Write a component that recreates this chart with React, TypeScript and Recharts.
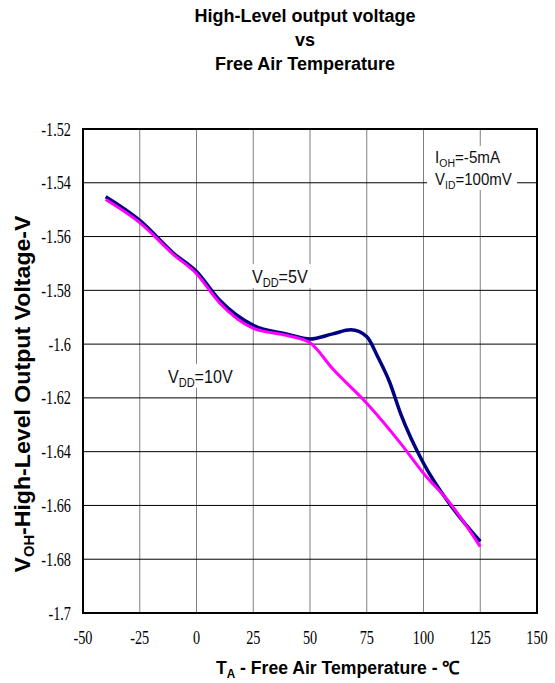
import React from "react";
import {
  LineChart,
  Line,
  CartesianGrid,
  XAxis,
  YAxis,
  ReferenceArea,
  ReferenceDot,
} from "recharts";

// temperature axis (°C)
const xTicks = [-50, -25, 0, 25, 50, 75, 100, 125, 150];
const xTickLabels = ["-50", "-25", "0", "25", "50", "75", "100", "125", "150"];

// output voltage axis (V)
const yTicks = [-1.52, -1.54, -1.56, -1.58, -1.6, -1.62, -1.64, -1.66, -1.68, -1.7];
const yTickLabels = ["-1.52", "-1.54", "-1.56", "-1.58", "-1.6", "-1.62", "-1.64", "-1.66", "-1.68", "-1.7"];

// VDD = 5V curve
const vdd5Temp = [-40, -25, -10, 0, 10, 25, 40, 50, 60, 68, 75, 80, 85, 90, 100, 112, 125];
const vdd5Volt = [
  -1.5452, -1.554, -1.5663, -1.573, -1.5835, -1.593, -1.5963, -1.5981, -1.5962, -1.5947,
  -1.5972, -1.605, -1.614, -1.626, -1.6443, -1.66, -1.6734,
];

// VDD = 10V curve
const vdd10Temp = [-40, -25, -10, 0, 10, 25, 40, 50, 60, 75, 90, 100, 112, 125];
const vdd10Volt = [
  -1.5462, -1.5548, -1.5668, -1.5738, -1.5845, -1.5941, -1.5968, -1.5995, -1.6092,
  -1.622, -1.637, -1.648, -1.6595, -1.6753,
];

const vdd5Rows = vdd5Temp.map((t, i) => ({ t, v: vdd5Volt[i] }));
const vdd10Rows = vdd10Temp.map((t, i) => ({ t, v: vdd10Volt[i] }));

// in-plot notes, anchored at the left end of the text baseline
const notes = [
  { t: 24.4, v: -1.5773, main: "V", sub: "DD", rest: "=5V", size: 19, subSize: 13, sx: 0.85, w: 56, padL: 3, padR: 3, cap: 14 },
  { t: -12.6, v: -1.6144, main: "V", sub: "DD", rest: "=10V", size: 19, subSize: 13, sx: 0.85, w: 67, padL: 3, padR: 3, cap: 14 },
  { t: 105.1, v: -1.5326, main: "I", sub: "OH", rest: "=-5mA", size: 16, subSize: 11, sx: 0.95, w: 65, padL: 2, padR: 2, cap: 12 },
  { t: 105.1, v: -1.5408, main: "V", sub: "ID", rest: "=100mV", size: 16, subSize: 11, sx: 0.94, w: 77, padL: 8, padR: 5, cap: 12 },
];

const serif = "'Liberation Serif', 'Times New Roman', serif";
const sans = "'Liberation Sans', Arial, sans-serif";

const XTick = (props: any) => {
  const { x, y, payload } = props;
  const label = xTickLabels[xTicks.indexOf(payload.value)];
  return (
    <g transform={`translate(${x},${y + 31}) scale(0.75,1)`}>
      <text x={0} y={0} textAnchor="middle" fontFamily={serif} fontSize={19} fill="#000">
        {label}
      </text>
    </g>
  );
};

const YTick = (props: any) => {
  const { x, y, payload } = props;
  const label = yTickLabels[yTicks.indexOf(payload.value)];
  return (
    <g transform={`translate(${x - 12},${y + 6.5}) scale(0.75,1)`}>
      <text x={0} y={0} textAnchor="end" fontFamily={serif} fontSize={19} fill="#000">
        {label}
      </text>
    </g>
  );
};

const noteShape = (n: (typeof notes)[number]) => (p: any) => {
  const { cx, cy } = p;
  return (
    <g>
      <rect
        x={cx - n.padL}
        y={cy - n.cap - 5}
        width={n.w + n.padL + n.padR}
        height={n.cap + 10}
        fill="#fff"
      />
      <g transform={`translate(${cx},${cy}) scale(${n.sx},1)`}>
        <text x={0} y={0} fontFamily={sans} fontSize={n.size} fill="#111">
          <tspan>{n.main}</tspan>
          <tspan fontSize={n.subSize} dy={4}>
            {n.sub}
          </tspan>
          <tspan dy={-4}>{n.rest}</tspan>
        </text>
      </g>
    </g>
  );
};

const App = () => {
  return (
    <div style={{ position: "absolute", left: 0, top: 0, width: 555, height: 683, background: "#fff" }}>
      <LineChart
        width={555}
        height={683}
        margin={{ top: 129, right: 18, bottom: 40, left: 23 }}
      >
        <CartesianGrid horizontal={false} stroke="#808080" strokeWidth={1} />
        <CartesianGrid vertical={false} stroke="#000" strokeWidth={1} />
        <XAxis
          type="number"
          dataKey="t"
          domain={[-50, 150]}
          ticks={xTicks}
          axisLine={false}
          tickLine={false}
          tickSize={0}
          tickMargin={0}
          height={30}
          tick={XTick}
          interval={0}
        />
        <YAxis
          type="number"
          domain={[-1.7, -1.52]}
          ticks={yTicks}
          axisLine={false}
          tickLine={false}
          tickSize={0}
          tickMargin={0}
          width={60}
          tick={YTick}
          interval={0}
        />
        <ReferenceArea
          x1={-50}
          x2={150}
          y1={-1.7}
          y2={-1.52}
          fill="none"
          stroke="#000"
          strokeWidth={2}
          fillOpacity={0}
        />
        <Line
          data={vdd5Rows}
          dataKey="v"
          type="monotone"
          stroke="#000080"
          strokeWidth={3.5}
          dot={false}
          isAnimationActive={false}
        />
        <Line
          data={vdd10Rows}
          dataKey="v"
          type="monotone"
          stroke="#ff00ff"
          strokeWidth={3}
          dot={false}
          isAnimationActive={false}
        />
        {notes.map((n, i) => (
          <ReferenceDot key={i} x={n.t} y={n.v} r={0} shape={noteShape(n)} />
        ))}
      </LineChart>

      {/* title and axis captions */}
      <svg
        width={555}
        height={683}
        style={{ position: "absolute", left: 0, top: 0, pointerEvents: "none" }}
      >
        <g fontFamily={sans} fontWeight="bold" fill="#000" textAnchor="middle">
          <text x={305} y={22} fontSize={18}>High-Level output voltage</text>
          <text x={305} y={46} fontSize={18}>vs</text>
          <text x={305} y={70} fontSize={18}>Free Air Temperature</text>
        </g>
        <text
          x={216}
          y={674}
          fontFamily={sans}
          fontWeight="bold"
          fontSize={18}
          fill="#000"
          textLength={244}
          lengthAdjust="spacingAndGlyphs"
        >
          <tspan>T</tspan>
          <tspan fontSize={12} dy={4}>A</tspan>
          <tspan dy={-4}> - Free Air Temperature - ℃</tspan>
        </text>
        <text
          transform="translate(30,394) rotate(-90)"
          x={0}
          y={0}
          textAnchor="middle"
          fontFamily={sans}
          fontWeight="bold"
          fontSize={22}
          fill="#000"
          textLength={357}
          lengthAdjust="spacingAndGlyphs"
        >
          <tspan>V</tspan>
          <tspan fontSize={14} dy={4}>OH</tspan>
          <tspan dy={-4}>-High-Level Output Voltage-V</tspan>
        </text>
      </svg>
    </div>
  );
};

export default App;
